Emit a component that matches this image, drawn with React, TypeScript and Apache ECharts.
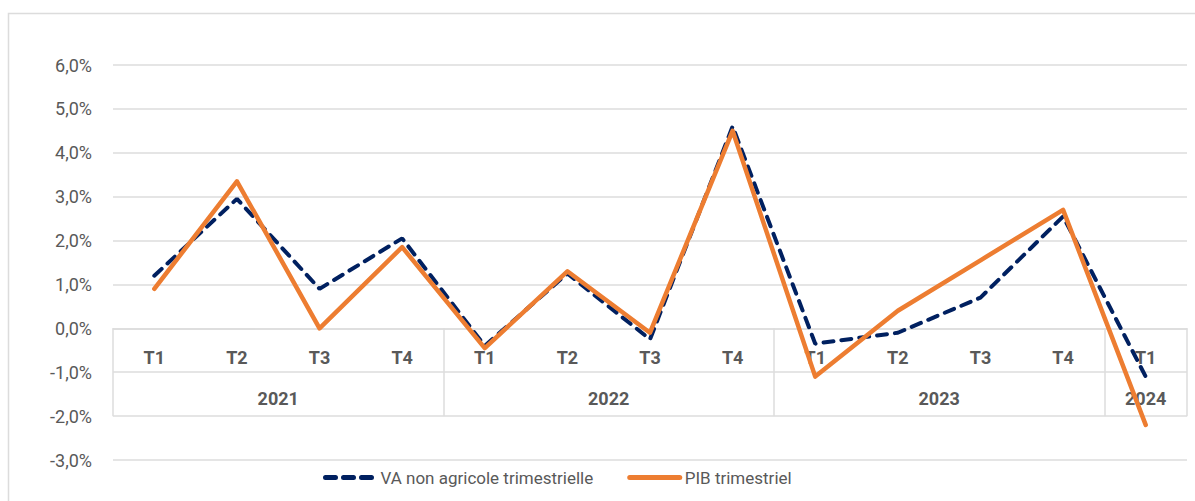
import React, { useEffect, useRef } from "react";
import * as echarts from "echarts";

const quarters = ["T1", "T2", "T3", "T4", "T1", "T2", "T3", "T4", "T1", "T2", "T3", "T4", "T1"];
const years = ["2021", "2022", "2023", "2024"];
const quartersPerYear = [4, 4, 4, 1];
const vaNonAgricole = [1.2, 2.95, 0.9, 2.05, -0.4, 1.25, -0.25, 4.6, -0.35, -0.1, 0.7, 2.55, -1.1];
const pibTrimestriel = [0.9, 3.35, 0.0, 1.85, -0.45, 1.3, -0.1, 4.5, -1.1, 0.4, 1.55, 2.7, -2.2];
const yMin = -3;
const yMax = 6;

const FONT = "Roboto, 'Liberation Sans', sans-serif";
const GRID = "#dcdcdc";
const TXT = "#595959";

const W = 1195;
const H = 501;
const GRID_TOP = 65;
const GRID_BOTTOM = 41;

export default function App() {
  const ref = useRef<HTMLDivElement>(null);
  useEffect(() => {
    document.body.style.margin = "0";
    const chart = echarts.init(ref.current!, null, { renderer: "svg" });
    const yearCenter: Record<string, string> = {};
    let acc = 0;
    quartersPerYear.forEach((n, i) => {
      yearCenter[String(acc + n / 2)] = years[i];
      acc += n;
    });
    const plotH = H - GRID_TOP - GRID_BOTTOM;
    const zeroOffset = -((0 - yMin) / (yMax - yMin)) * plotH;
    chart.setOption({
      animation: false,
      textStyle: { fontFamily: FONT },
      graphic: [
        {
          type: "rect",
          shape: { x: 8.5, y: 13.5, width: 1200, height: 500 },
          style: { fill: "none", stroke: GRID, lineWidth: 1.5 },
          silent: true,
        },
      ],
      grid: {
        left: 113,
        right: 8,
        top: GRID_TOP,
        bottom: GRID_BOTTOM,
        containLabel: false,
        outerBoundsMode: "none",
      },
      legend: {
        left: 318,
        top: 464,
        itemWidth: 50,
        itemHeight: 14,
        itemGap: 34,
        itemStyle: { opacity: 0 },
        lineStyle: { width: 5, cap: "round" },
        textStyle: { color: TXT, fontSize: 17, fontFamily: FONT },
        data: ["VA non agricole trimestrielle", "PIB trimestriel"],
      },
      xAxis: [
        {
          type: "category",
          data: quarters,
          boundaryGap: true,
          position: "bottom",
          offset: zeroOffset,
          axisLine: { onZero: false, lineStyle: { color: GRID, width: 1.5 } },
          axisTick: {
            show: true,
            length: 88,
            lineStyle: { color: GRID, width: 1.5 },
            interval: (index: number) => {
              let s = 0;
              for (const n of quartersPerYear) {
                if (index === s) return true;
                s += n;
              }
              return false;
            },
          },
          axisLabel: {
            interval: 0,
            margin: 20,
            color: TXT,
            fontSize: 18,
            fontWeight: "bold",
            fontFamily: FONT,
          },
          splitLine: { show: false },
        },
        {
          type: "value",
          min: 0,
          max: quarters.length,
          interval: 0.5,
          position: "bottom",
          offset: zeroOffset,
          axisLine: { show: false, onZero: false },
          axisTick: { show: false },
          splitLine: { show: false },
          axisLabel: {
            margin: 61,
            color: TXT,
            fontSize: 18,
            fontWeight: "bold",
            fontFamily: FONT,
            formatter: (v: number) => yearCenter[String(v)] || "",
          },
        },
      ],
      yAxis: {
        type: "value",
        min: yMin,
        max: yMax,
        interval: 1,
        axisLine: { show: false },
        axisTick: { show: false },
        splitLine: { lineStyle: { color: GRID, width: 1.5 } },
        axisLabel: {
          margin: 21,
          color: TXT,
          fontSize: 18,
          fontFamily: FONT,
          formatter: (v: number) => v.toFixed(1).replace(".", ",") + "%",
        },
      },
      series: [
        {
          name: "VA non agricole trimestrielle",
          type: "line",
          data: vaNonAgricole,
          symbol: "none",
          color: "#002060",
          lineStyle: { color: "#002060", width: 4, type: [10, 8], cap: "round" },
        },
        {
          name: "PIB trimestriel",
          type: "line",
          data: pibTrimestriel,
          symbol: "none",
          color: "#ED7D31",
          lineStyle: { color: "#ED7D31", width: 4.5, cap: "round", join: "round" },
        },
      ],
    });
    return () => chart.dispose();
  }, []);
  return <div ref={ref} style={{ width: W, height: H }} />;
}
